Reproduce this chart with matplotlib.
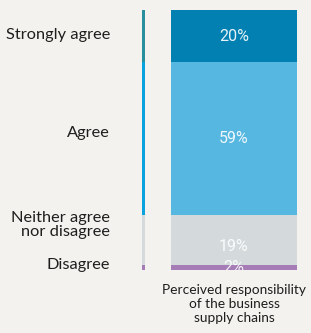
import matplotlib
matplotlib.use("Agg")
import matplotlib.pyplot as plt
import numpy as np

# survey responses, top to bottom
categories = ["Strongly agree", "Agree", "Neither agree\nnor disagree", "Disagree"]
shares = [20, 59, 19, 2]
pct_labels = ["20%", "59%", "19%", "2%"]
bar_label = "Perceived responsibility\nof the business\nsupply chains"

bar_colors = ["#0280b2", "#56b7e1", "#d4dadc", "#a57cb6"]
key_colors = ["#2a8f9d", "#0aa3de", "#d4dadc", "#a57cb6"]
bg = "#f3f2ee"
label_font = ["Lato", "DejaVu Sans"]

W, H = 311, 333
fig = plt.figure(figsize=(W / 100, H / 100), dpi=100, facecolor=bg)

def px_axes(x0, x1, y0, y1):
    return fig.add_axes([x0 / W, 1 - y1 / H, (x1 - x0) / W, (y1 - y0) / H])

ax = px_axes(171, 297, 10, 270)
key = px_axes(142, 145, 10, 270)

starts = np.concatenate([[0], np.cumsum(shares)[:-1]])
centers = starts + np.array(shares) / 2

for a, cols in ((ax, bar_colors), (key, key_colors)):
    a.bar(np.zeros(len(shares)), shares, bottom=starts, width=1.0,
          color=cols, linewidth=0)
    a.set_xlim(-0.5, 0.5)
    a.set_ylim(100, 0)
    a.axis("off")

# percentage labels inside the bar (clipped at the bar edge)
pct_shift = [0.3, -0.2, 2.4, 0.0]
for c, s, lab in zip(centers, pct_shift, pct_labels):
    t = ax.text(0, c + s, lab, ha="center", va="center", color="white",
                fontsize=11.5, family=["Roboto", "DejaVu Sans"], alpha=0.9)
    t.set_clip_on(True)

# category labels on the left of the key
cat_shift = [-0.5, -2.2, -6.0, -1.0]
for c, s, lab in zip(centers, cat_shift, categories):
    key.annotate(lab, xy=(0, c + s), xycoords=("axes fraction", "data"),
                 xytext=(-32 * 72 / 100, 0), textcoords="offset points",
                 ha="right", va="center", fontsize=11.8, color="#1e1e1e",
                 family=label_font, linespacing=1.0)

ax.text(0.5, -0.055, bar_label, transform=ax.transAxes, ha="center", va="top",
        fontsize=9.9, color="#1e1e1e", family=label_font, linespacing=1.17)

fig.savefig("out.png", dpi=100, facecolor=bg)
